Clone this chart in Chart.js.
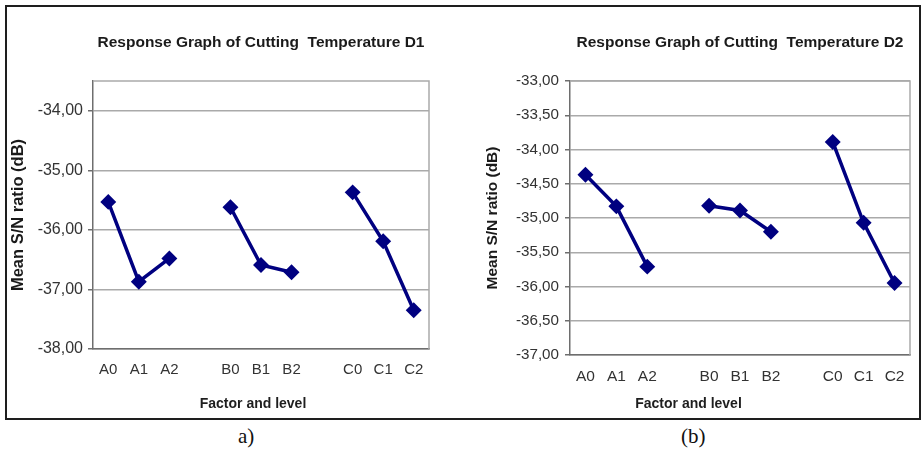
<!DOCTYPE html>
<html>
<head>
<meta charset="utf-8">
<script src="https://cdn.jsdelivr.net/npm/chart.js@4/dist/chart.umd.min.js"></script>
<style>
  body { margin: 0; background: #fff; width: 923px; height: 449px; position: relative; overflow: hidden; }
  #frame { position: absolute; left: 5px; top: 5px; width: 912px; height: 411px; border: 2px solid #1e1e1e; }
  canvas { position: absolute; top: 7px; }
  #c1 { left: 7px; }
  #c2 { left: 461px; }
  .cap { position: absolute; top: 424px; font-family: "Liberation Serif", serif; font-size: 21px; color: #111; }
</style>
</head>
<body>
<div id="frame"></div>
<canvas id="c1" width="452" height="411"></canvas>
<canvas id="c2" width="458" height="411"></canvas>
<div class="cap" style="left:238px;">a)</div>
<div class="cap" style="left:681px;">(b)</div>
<script>
//Factor levels, blank entries keep the gap between factors
var levels = ["A0", "A1", "A2", "", "B0", "B1", "B2", "", "C0", "C1", "C2"];

//Mean S/N ratio
var snD1 = [-35.53, -36.87, -36.48, null, -35.62, -36.59, -36.71, null, -35.37, -36.19, -37.35];
var snD2 = [-34.37, -34.83, -35.71, null, -34.82, -34.89, -35.20, null, -33.89, -35.07, -35.95];

//Axis ranges
var d1Axis = [-38, -33.5, 1];
var d2Axis = [-37, -33, 0.5];

var axisGrey = "#6e6e6e";
var gridGrey = "#aaaaaa";

//Draws the grey top/right edge of the plot area and the x axis title
var plotFrame = {
    id: "plotFrame",
    beforeDatasetsDraw: function (chart) {
        var a = chart.chartArea;
        var ctx = chart.ctx;
        ctx.save();
        ctx.strokeStyle = gridGrey;
        ctx.lineWidth = 1.5;
        ctx.beginPath();
        ctx.moveTo(a.left, a.top);
        ctx.lineTo(a.right, a.top);
        ctx.lineTo(a.right, a.bottom);
        ctx.stroke();
        ctx.restore();
    },
    afterDraw: function (chart, args, opts) {
        var ctx = chart.ctx;
        ctx.save();
        ctx.fillStyle = "#1e1e1e";
        ctx.font = "bold 14px 'Liberation Sans', Arial, sans-serif";
        ctx.textAlign = "center";
        ctx.textBaseline = "middle";
        ctx.fillText("Factor and level", opts.x, opts.y);
        ctx.restore();
    }
};

function drawChart(id, values, range, title, s) {
    return new Chart(id, {
        type: "line",
        data: {
            labels: levels,
            datasets: [{
                data: values,
                borderColor: "#000080",
                backgroundColor: "#000080",
                borderWidth: 3.5,
                pointStyle: "rectRot",
                pointRadius: 5.5,
                pointHoverRadius: 5.5,
                spanGaps: false,
                tension: 0
            }]
        },
        options: {
            responsive: false,
            animation: false,
            devicePixelRatio: 1,
            layout: { padding: { left: s.padL, right: s.padR, top: 0, bottom: 0 } },
            plugins: {
                legend: { display: false },
                tooltip: { enabled: false },
                title: {
                    display: true,
                    text: title,
                    fullSize: false,
                    color: "#1a1a1a",
                    font: { family: "'Liberation Sans', Arial, sans-serif", size: 15.5, weight: "bold" },
                    padding: { top: 26.7, bottom: 28.7 }
                },
                plotFrame: { x: s.xTitleX, y: 397 }
            },
            scales: {
                x: {
                    offset: true,
                    afterFit: function (scale) { scale.height = s.xH; },
                    grid: { display: true, drawOnChartArea: false, drawTicks: false },
                    border: { color: axisGrey, width: 1.5 },
                    ticks: {
                        autoSkip: false,
                        maxRotation: 0,
                        padding: 12,
                        color: "#333",
                        font: { family: "'Liberation Sans', Arial, sans-serif", size: s.xFont }
                    }
                },
                y: {
                    min: range[0],
                    max: range[1],
                    afterFit: function (scale) { scale.width = s.yW; },
                    grid: { color: gridGrey, lineWidth: 1.5, tickColor: axisGrey, tickLength: 5 },
                    border: { color: axisGrey, width: 1.5 },
                    ticks: {
                        stepSize: range[2],
                        includeBounds: false,
                        padding: s.yPad,
                        color: "#333",
                        font: { family: "'Liberation Sans', Arial, sans-serif", size: s.yFont },
                        callback: function (v) { return v.toFixed(2).replace(".", ","); }
                    },
                    title: {
                        display: true,
                        text: "Mean S/N ratio (dB)",
                        color: "#1a1a1a",
                        padding: 0,
                        font: { family: "'Liberation Sans', Arial, sans-serif", size: s.yTitleFont, weight: "bold" }
                    }
                }
            }
        },
        plugins: [plotFrame]
    });
}

drawChart("c1", snD1, d1Axis, "Response Graph of Cutting  Temperature D1",
    { padL: 2, padR: 30, yW: 84, xH: 69, yPad: 5, yFont: 16, xFont: 15, yTitleFont: 16.5, xTitleX: 246 });
drawChart("c2", snD2, d2Axis, "Response Graph of Cutting  Temperature D2",
    { padL: 22, padR: 2, yW: 87, xH: 63, yPad: 6, yFont: 15.2, xFont: 15.5, yTitleFont: 15.5, xTitleX: 227.5 });
</script>
</body>
</html>
